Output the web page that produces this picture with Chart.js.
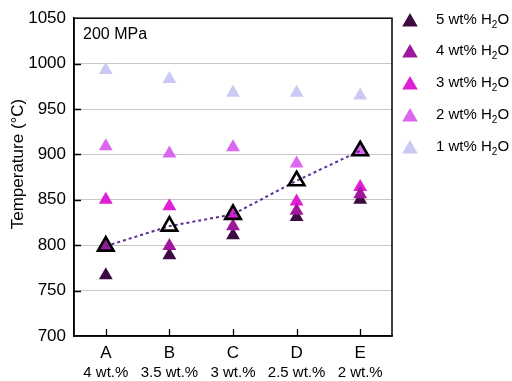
<!DOCTYPE html>
<html><head><meta charset="utf-8">
<script src="https://cdn.jsdelivr.net/npm/chart.js@4/dist/chart.umd.min.js"></script>
<style>html,body{margin:0;padding:0;background:#fff}canvas{display:block}</style>
</head><body>
<canvas id="c" width="512" height="381"></canvas>
<script>
const categories = ['A', 'B', 'C', 'D', 'E'];
const subLabels = ['4 wt.%', '3.5 wt.%', '3 wt.%', '2.5 wt.%', '2 wt.%'];
const yMin = 700, yMax = 1050, yStep = 50;
const h2o5 = [767, 789, 811, 831, 850];
const h2o4 = [799, 799, 821, 838, 856];
const h2o3 = [850, 843, 834, 848, 864];
const h2o2 = [909, 901, 908, 890, 904];
const h2o1 = [993, 983, 968, 968, 965];
const openSeries = [799, 821, 834, 871, 904];
const legendNames = ['5 wt% H', '4 wt% H', '3 wt% H', '2 wt% H', '1 wt% H'];
const colors = ['#3e0b40', '#9e179c', '#de1fd6', '#dd66f0', '#c9c9f3'];

const FONT = '"Liberation Sans", Arial, sans-serif';

function pts(arr, color, order) {
  return {
    label: '', data: arr, showLine: false, order: order,
    pointStyle: 'triangle', pointRadius: 8, pointHoverRadius: 8,
    pointBackgroundColor: color, pointBorderColor: color, pointBorderWidth: 0
  };
}

const datasets = [
  {
    label: 'open', data: openSeries, showLine: true, order: 0,
    borderColor: '#5a2d8f', borderWidth: 2, borderDash: [3, 3], tension: 0,
    pointStyle: 'triangle', pointRadius: 9, pointHoverRadius: 9,
    pointBackgroundColor: 'rgba(0,0,0,0)', pointBorderColor: '#000', pointBorderWidth: 2.6
  },
  pts(h2o1, colors[4], 5),
  pts(h2o2, colors[3], 4),
  pts(h2o3, colors[2], 3),
  pts(h2o4, colors[1], 1),
  pts(h2o5, colors[0], 2)
];

const decor = {
  id: 'decor',
  afterDraw(chart) {
    const ctx = chart.ctx, a = chart.chartArea;
    const xs = chart.scales.x, ys = chart.scales.y;
    ctx.save();
    ctx.strokeStyle = '#000';
    ctx.lineWidth = 1.5;
    ctx.strokeRect(a.left, a.top, a.right - a.left, a.bottom - a.top);
    ctx.lineWidth = 1.3;
    ctx.beginPath();
    for (let v = yMin + yStep; v < yMax; v += yStep) {
      const y = Math.round(ys.getPixelForValue(v)) + 0.5;
      ctx.moveTo(a.left, y); ctx.lineTo(a.left + 7, y);
    }
    categories.forEach((c, i) => {
      const x = Math.round(xs.getPixelForValue(i)) + 0.5;
      ctx.moveTo(x, a.bottom); ctx.lineTo(x, a.bottom - 7);
    });
    ctx.stroke();
    ctx.fillStyle = '#000';
    ctx.textBaseline = 'middle';
    // y axis title
    ctx.save();
    ctx.translate(18, 164);
    ctx.rotate(-Math.PI / 2);
    ctx.textAlign = 'center';
    ctx.font = '17px ' + FONT;
    ctx.fillText('Temperature (°C)', 0, 0);
    ctx.restore();
    ctx.font = '16px ' + FONT;
    ctx.textAlign = 'left';
    ctx.fillText('200 MPa', a.left + 9, a.top + 16);
    ctx.font = '15px ' + FONT;
    ctx.textAlign = 'center';
    subLabels.forEach((s, i) => {
      ctx.fillText(s, xs.getPixelForValue(i), 373);
    });
    // legend
    const rowY = [20, 51, 83, 115, 147];
    legendNames.forEach((n, i) => {
      const y = rowY[i];
      ctx.fillStyle = colors[i];
      ctx.beginPath();
      const r = 9;
      for (let k = 0; k < 3; k++) {
        const ang = k * 2 * Math.PI / 3;
        const px = 410 + Math.sin(ang) * r, py = y + 2 - Math.cos(ang) * r;
        if (k === 0) ctx.moveTo(px, py); else ctx.lineTo(px, py);
      }
      ctx.closePath();
      ctx.fill();
      ctx.fillStyle = '#000';
      ctx.textAlign = 'left';
      ctx.font = '15px ' + FONT;
      let x = 436;
      ctx.fillText(n, x, y);
      x += ctx.measureText(n).width;
      ctx.font = '10px ' + FONT;
      ctx.fillText('2', x, y + 5);
      x += ctx.measureText('2').width;
      ctx.font = '15px ' + FONT;
      ctx.fillText('O', x, y);
    });
    ctx.restore();
  }
};

new Chart(document.getElementById('c'), {
  type: 'line',
  data: { labels: categories, datasets: datasets },
  options: {
    responsive: false, animation: false,
    layout: { padding: { left: 0, right: 120, top: 11, bottom: 0 } },
    plugins: { legend: { display: false }, tooltip: { enabled: false } },
    scales: {
      x: {
        type: 'category', offset: true,
        grid: { display: false, drawTicks: false },
        border: { display: true, color: '#000', width: 1.5 },
        ticks: { color: '#000', font: { size: 17, family: FONT }, padding: 7, maxRotation: 0 },
        afterFit(s) { s.height = 45; }
      },
      y: {
        min: yMin, max: yMax,
        ticks: { stepSize: yStep, color: '#000', font: { size: 17, family: FONT }, padding: 8,
                 callback: v => String(v) },
        grid: { color: '#c8c8c8', lineWidth: 1, drawTicks: false },
        border: { display: true, color: '#000', width: 1.5 },
        afterFit(s) { s.width = 74; }
      }
    }
  },
  plugins: [decor]
});
</script>
</body></html>
